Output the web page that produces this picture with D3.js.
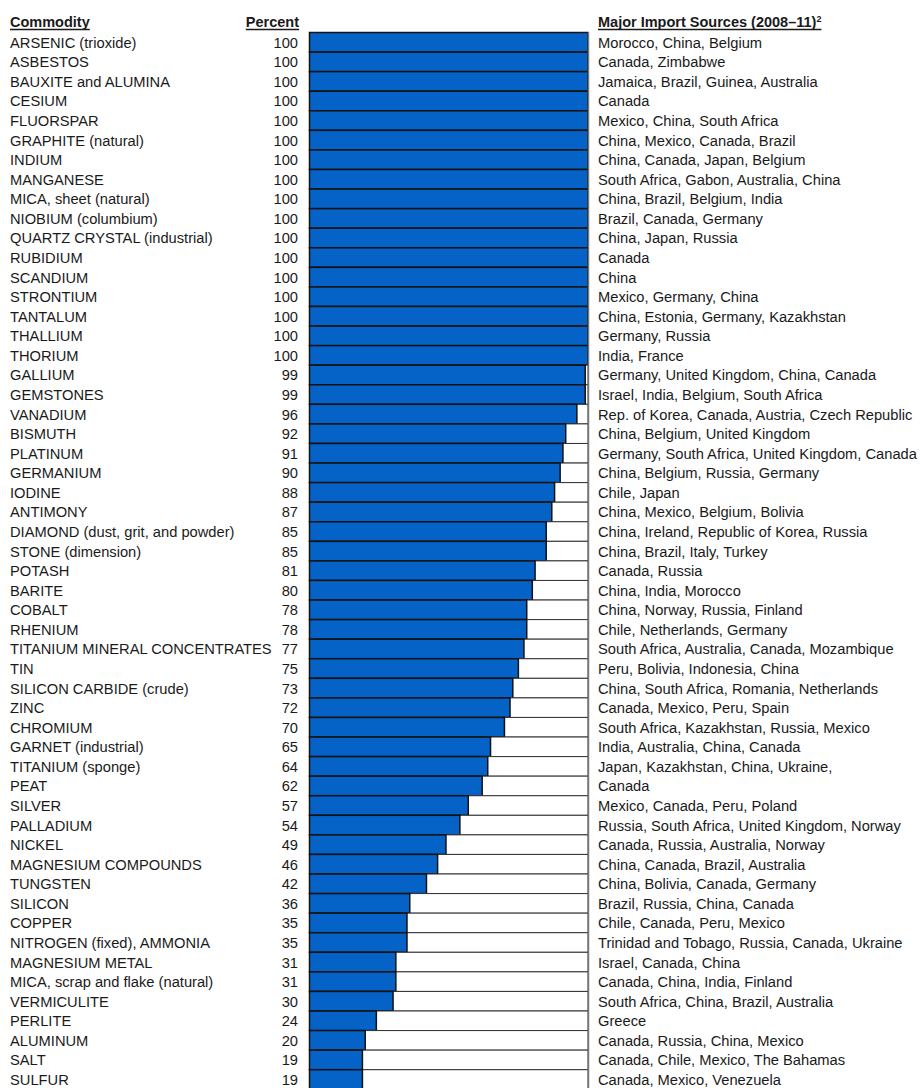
<!DOCTYPE html>
<html><head><meta charset="utf-8">
<script src="https://cdn.jsdelivr.net/npm/d3@7"></script>
<style>body{margin:0;background:#fff}svg{display:block}</style>
</head><body>
<script>
const commodities = ["ARSENIC (trioxide)","ASBESTOS","BAUXITE and ALUMINA","CESIUM","FLUORSPAR","GRAPHITE (natural)","INDIUM","MANGANESE","MICA, sheet (natural)","NIOBIUM (columbium)","QUARTZ CRYSTAL (industrial)","RUBIDIUM","SCANDIUM","STRONTIUM","TANTALUM","THALLIUM","THORIUM","GALLIUM","GEMSTONES","VANADIUM","BISMUTH","PLATINUM","GERMANIUM","IODINE","ANTIMONY","DIAMOND (dust, grit, and powder)","STONE (dimension)","POTASH","BARITE","COBALT","RHENIUM","TITANIUM MINERAL CONCENTRATES","TIN","SILICON CARBIDE (crude)","ZINC","CHROMIUM","GARNET (industrial)","TITANIUM (sponge)","PEAT","SILVER","PALLADIUM","NICKEL","MAGNESIUM COMPOUNDS","TUNGSTEN","SILICON","COPPER","NITROGEN (fixed), AMMONIA","MAGNESIUM METAL","MICA, scrap and flake (natural)","VERMICULITE","PERLITE","ALUMINUM","SALT","SULFUR"];
const percents = [100,100,100,100,100,100,100,100,100,100,100,100,100,100,100,100,100,99,99,96,92,91,90,88,87,85,85,81,80,78,78,77,75,73,72,70,65,64,62,57,54,49,46,42,36,35,35,31,31,30,24,20,19,19];
const sources = ["Morocco, China, Belgium","Canada, Zimbabwe","Jamaica, Brazil, Guinea, Australia","Canada","Mexico, China, South Africa","China, Mexico, Canada, Brazil","China, Canada, Japan, Belgium","South Africa, Gabon, Australia, China","China, Brazil, Belgium, India","Brazil, Canada, Germany","China, Japan, Russia","Canada","China","Mexico, Germany, China","China, Estonia, Germany, Kazakhstan","Germany, Russia","India, France","Germany, United Kingdom, China, Canada","Israel, India, Belgium, South Africa","Rep. of Korea, Canada, Austria, Czech Republic","China, Belgium, United Kingdom","Germany, South Africa, United Kingdom, Canada","China, Belgium, Russia, Germany","Chile, Japan","China, Mexico, Belgium, Bolivia","China, Ireland, Republic of Korea, Russia","China, Brazil, Italy, Turkey","Canada, Russia","China, India, Morocco","China, Norway, Russia, Finland","Chile, Netherlands, Germany","South Africa, Australia, Canada, Mozambique","Peru, Bolivia, Indonesia, China","China, South Africa, Romania, Netherlands","Canada, Mexico, Peru, Spain","South Africa, Kazakhstan, Russia, Mexico","India, Australia, China, Canada","Japan, Kazakhstan, China, Ukraine,","Canada","Mexico, Canada, Peru, Poland","Russia, South Africa, United Kingdom, Norway","Canada, Russia, Australia, Norway","China, Canada, Brazil, Australia","China, Bolivia, Canada, Germany","Brazil, Russia, China, Canada","Chile, Canada, Peru, Mexico","Trinidad and Tobago, Russia, Canada, Ukraine","Israel, Canada, China","Canada, China, India, Finland","South Africa, China, Brazil, Australia","Greece","Canada, Russia, China, Mexico","Canada, Chile, Mexico, The Bahamas","Canada, Mexico, Venezuela"];
const headers = ["Commodity","Percent","Major Import Sources (2008\u201311)"];
const xDomain = [0,100];

const W = 922, H = 1088;
const font = "'Liberation Sans', Arial, sans-serif";
const svg = d3.select("body").append("svg").attr("width",W).attr("height",H);

const rowStep = 19.57, topY = 32.5;
const y = d3.scaleBand().domain(d3.range(commodities.length))
  .range([topY, topY + rowStep*commodities.length]).padding(0);
const x = d3.scaleLinear().domain(xDomain).range([309.5, 588]);
const textCol = "#1a1a1a";

// headers
const hdr = svg.append("g").attr("font-family",font).attr("font-weight","bold").attr("font-size",14.5).attr("fill",textCol);
const h1 = hdr.append("text").attr("x",10).attr("y",27).text(headers[0]);
const h2 = hdr.append("text").attr("x",299).attr("y",27).attr("text-anchor","end").text(headers[1]);
const h3 = hdr.append("text").attr("x",598).attr("y",27);
h3.append("tspan").text(headers[2]);
h3.append("tspan").attr("font-size",9).attr("dy",-5).text("2");
[h1,h2,h3].forEach(t=>{
  const b = t.node().getBBox();
  hdr.append("line").attr("x1",b.x).attr("x2",b.x+b.width).attr("y1",29.5).attr("y2",29.5)
    .attr("stroke",textCol).attr("stroke-width",1.4);
});

// rows
const rows = svg.append("g").selectAll("g").data(commodities).join("g");
rows.append("rect")
  .attr("x",x(0)).attr("y",(d,i)=>y(i)).attr("width",x(100)-x(0)).attr("height",y.bandwidth())
  .attr("fill","#fff").attr("stroke","#333").attr("stroke-width",1);
rows.append("rect")
  .attr("x",x(0)).attr("y",(d,i)=>y(i)).attr("width",(d,i)=>x(percents[i])-x(0)).attr("height",y.bandwidth())
  .attr("fill","#0563c8").attr("stroke","#111").attr("stroke-width",1.5);

// right border line
svg.append("line").attr("x1",x(100)+0.5).attr("x2",x(100)+0.5).attr("y1",topY-0.5).attr("y2",H)
  .attr("stroke","#777").attr("stroke-width",1.5);

const tg = svg.append("g").attr("font-family",font).attr("font-size",14.7).attr("fill",textCol);
tg.selectAll("text.c").data(commodities).join("text").attr("class","c")
  .attr("x",10).attr("y",(d,i)=>y(i)+y.bandwidth()/2+5.5).text(d=>d);
tg.selectAll("text.p").data(percents).join("text").attr("class","p")
  .attr("x",298).attr("text-anchor","end").attr("y",(d,i)=>y(i)+y.bandwidth()/2+5.5).text(d=>d);
tg.selectAll("text.s").data(sources).join("text").attr("class","s")
  .attr("x",598).attr("y",(d,i)=>y(i)+y.bandwidth()/2+5.5).text(d=>d);
</script>
</body></html>
